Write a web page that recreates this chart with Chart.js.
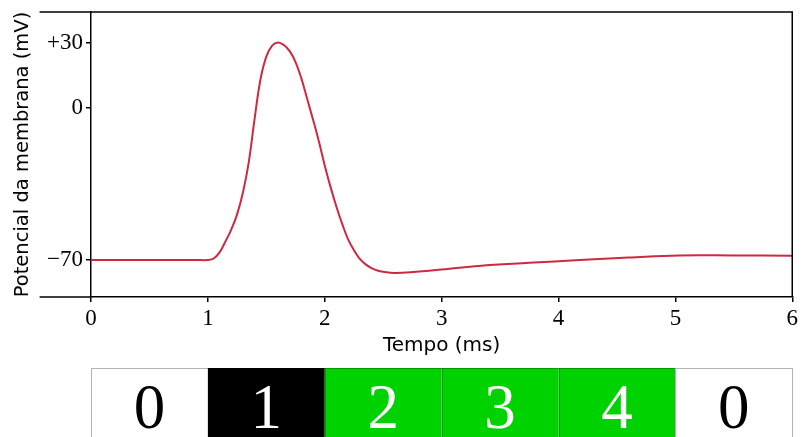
<!DOCTYPE html>
<html>
<head>
<meta charset="utf-8">
<title>Potencial de ação</title>
<script src="https://cdn.jsdelivr.net/npm/chart.js@4/dist/chart.umd.min.js"></script>
<style>
  html, body { margin: 0; padding: 0; background: #fff; }
  #wrap { width: 801px; height: 437px; }
</style>
</head>
<body>
<div id="wrap"><canvas id="ap-chart" width="801" height="437"></canvas></div>
<script>
// Action potential trace (time in ms, potential in mV)
const timeMs = [0, 0.5, 0.9, 1.0, 1.05, 1.1, 1.15, 1.2, 1.25, 1.3, 1.35, 1.4, 1.45, 1.5, 1.55, 1.6,
    1.65, 1.7, 1.75, 1.8, 1.85, 1.9, 1.95, 2.0, 2.05, 2.1, 2.15, 2.2, 2.25, 2.3, 2.35,
    2.4, 2.45, 2.5, 2.6, 3.0, 3.32, 3.75, 4.18, 4.6, 5.03, 5.5, 6.0];
const potentialMv = [-70, -70, -70, -70, -69.3, -66.5, -61.5, -56, -49, -39, -25, -5, 13, 23.5, 28.5, 30,
    28.8, 26, 21, 13.5, 4, -5.5, -15.5, -26.5, -36.5, -45.5, -53.5, -60.5, -65.5, -69.5, -72,
    -73.7, -74.8, -75.4, -76, -74.4, -72.7, -71.3, -70, -68.9, -67.9, -67.9, -68];

const yTickValues = [30, 0, -70];
const xTickValues = [0, 1, 2, 3, 4, 5, 6];

// Phase strip under the time axis
const phaseStart = [0, 1, 2, 3, 4, 5];
const phaseEnd = [1, 2, 3, 4, 5, 6];
const phaseLabels = ['0', '1', '2', '3', '4', '0'];

const phaseFill = ['#ffffff', '#000000', '#00d200', '#00d200', '#00d200', '#ffffff'];
const phaseEdge = ['#b4b4b4', '#000000', '#009a00', '#009a00', '#009a00', '#b4b4b4'];
const phaseText = ['#000000', '#ffffff', '#ffffff', '#ffffff', '#ffffff', '#000000'];

const frameStart = -0.44;   // top/bottom frame lines reach a bit left of t = 0
const serif = '"Liberation Serif", "Times New Roman", serif';
const sans = '"DejaVu Sans", sans-serif';

function formatMv(v) {
    if (v > 0) return '+' + v;
    if (v < 0) return '\u2212' + Math.abs(v);
    return '0';
}

const framePlugin = {
    id: 'frame',
    afterDatasetsDraw(chart) {
        const {ctx, chartArea: a, scales: {x}} = chart;
        const leftEdge = x.getPixelForValue(frameStart);
        ctx.save();
        ctx.strokeStyle = '#000';
        ctx.lineWidth = 1.5;
        ctx.beginPath();
        ctx.moveTo(leftEdge, a.top);
        ctx.lineTo(a.right, a.top);
        ctx.lineTo(a.right, a.bottom);
        ctx.moveTo(leftEdge, a.bottom);
        ctx.lineTo(a.left, a.bottom);
        ctx.stroke();
        ctx.restore();
    }
};

const phasePlugin = {
    id: 'phases',
    afterDraw(chart) {
        const {ctx, chartArea: a, scales: {x}} = chart;
        const top = a.bottom + 71;
        const bottom = chart.height + 1;
        ctx.save();
        phaseLabels.forEach((label, i) => {
            const x0 = x.getPixelForValue(phaseStart[i]);
            const x1 = x.getPixelForValue(phaseEnd[i]);
            ctx.fillStyle = phaseFill[i];
            ctx.fillRect(x0, top, x1 - x0, bottom - top);
            ctx.strokeStyle = phaseEdge[i];
            ctx.lineWidth = 1;
            ctx.strokeRect(Math.round(x0) + 0.5, top + 0.5, Math.round(x1 - x0), bottom - top);
            ctx.fillStyle = phaseText[i];
            ctx.font = '63px ' + serif;
            ctx.textAlign = 'center';
            ctx.textBaseline = 'alphabetic';
            ctx.fillText(label, (x0 + x1) / 2, top + 60);
        });
        ctx.restore();
    }
};

const ctx = document.getElementById('ap-chart').getContext('2d');
new Chart(ctx, {
    type: 'line',
    data: {
        datasets: [{
            data: timeMs.map((t, i) => ({x: t, y: potentialMv[i]})),
            borderColor: '#cc2a40',
            borderWidth: 2,
            pointRadius: 0,
            fill: false,
            tension: 0.4
        }]
    },
    options: {
        responsive: false,
        animation: false,
        layout: {padding: {top: 12, right: 8, bottom: 79, left: 0}},
        plugins: {legend: {display: false}, tooltip: {enabled: false}},
        scales: {
            x: {
                type: 'linear',
                min: 0,
                max: 6,
                afterBuildTicks: (axis) => { axis.ticks = xTickValues.map(v => ({value: v})); },
                afterFit: (axis) => { axis.height = 61; },
                grid: {drawOnChartArea: false, tickLength: 5, color: '#000', lineWidth: 1.5},
                border: {color: '#000', width: 1.5},
                ticks: {
                    color: '#000',
                    padding: 3,
                    maxRotation: 0,
                    font: {family: serif, size: 23}
                },
                title: {
                    display: true,
                    text: 'Tempo (ms)',
                    color: '#000',
                    padding: {top: 0, bottom: 0},
                    font: {family: sans, size: 20}
                }
            },
            y: {
                type: 'linear',
                min: -87,
                max: 44,
                afterBuildTicks: (axis) => { axis.ticks = yTickValues.map(v => ({value: v})); },
                afterFit: (axis) => {
                    axis.width = 91;
                    axis.paddingTop = 0;
                    axis.paddingBottom = 0;
                },
                grid: {drawOnChartArea: false, tickLength: 5, color: '#000', lineWidth: 1.5},
                border: {color: '#000', width: 1.5},
                ticks: {
                    color: '#000',
                    padding: 3,
                    font: {family: serif, size: 23},
                    callback: (v) => formatMv(v)
                },
                title: {
                    display: true,
                    text: 'Potencial da membrana (mV)',
                    color: '#000',
                    padding: {top: 11, bottom: 0},
                    font: {family: sans, size: 19.5}
                }
            }
        }
    },
    plugins: [framePlugin, phasePlugin]
});
</script>
</body>
</html>
